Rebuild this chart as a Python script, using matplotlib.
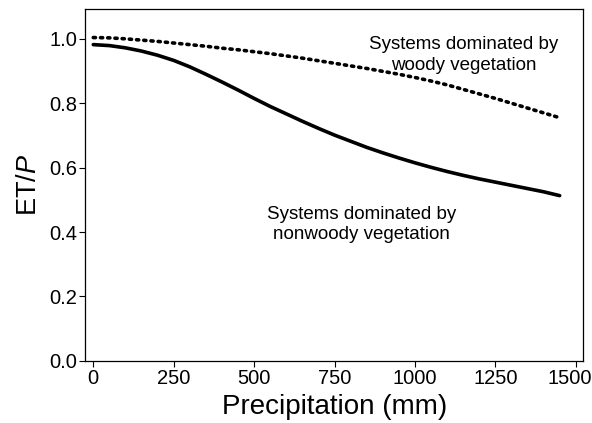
import matplotlib
matplotlib.use("Agg")
import matplotlib.pyplot as plt
from matplotlib.transforms import ScaledTranslation

plt.rcParams['font.family'] = ['Liberation Sans', 'DejaVu Sans']
plt.rcParams['mathtext.fontset'] = 'custom'
plt.rcParams['mathtext.rm'] = 'Liberation Sans'
plt.rcParams['mathtext.it'] = 'Liberation Sans:italic'

# precipitation (mm)
precip = [0, 50, 100, 150, 200, 250, 300, 350, 400, 450, 500, 550, 600, 650, 700, 750,
          800, 850, 900, 950, 1000, 1050, 1100, 1150, 1200, 1250, 1300, 1350, 1400, 1450]
# ET/P, systems dominated by woody vegetation
et_woody = [1.004, 1.003, 1.0, 0.996, 0.992, 0.987, 0.982, 0.977, 0.971, 0.966, 0.96, 0.954,
            0.947, 0.94, 0.932, 0.924, 0.916, 0.908, 0.899, 0.89, 0.88, 0.869, 0.857, 0.843,
            0.829, 0.815, 0.80, 0.785, 0.77, 0.755]
# ET/P, systems dominated by nonwoody vegetation
et_nonwoody = [0.982, 0.979, 0.972, 0.962, 0.949, 0.933, 0.913, 0.890, 0.866, 0.841, 0.815,
               0.79, 0.767, 0.744, 0.722, 0.701, 0.682, 0.663, 0.646, 0.63, 0.615, 0.601,
               0.588, 0.576, 0.565, 0.555, 0.545, 0.535, 0.525, 0.513]

xticks = [0, 250, 500, 750, 1000, 1250, 1500]
yticks = [0.0, 0.2, 0.4, 0.6, 0.8, 1.0]

fig = plt.figure(figsize=(5.92, 4.23), dpi=100)
ax = fig.add_axes([0.144, 0.147, 0.841, 0.832])

ax.plot(precip, et_woody, color='black', linestyle=(0, (0.6, 1.4)), linewidth=2.6,
        dash_capstyle='round')
ax.plot(precip, et_nonwoody, color='black', linewidth=2.6, solid_capstyle='round')

ax.text(1153, 0.95, 'Systems dominated by\nwoody vegetation', ha='center', va='center',
        fontsize=13.5, linespacing=1.25)
ax.text(834, 0.424, 'Systems dominated by\nnonwoody vegetation', ha='center', va='center',
        fontsize=13.5, linespacing=1.25)

ax.set_xlim(-25, 1523)
ax.set_ylim(0, 1.093)
ax.set_xticks(xticks)
ax.set_yticks(yticks)
ax.set_yticklabels([f'{v:.1f}' for v in yticks])
ax.tick_params(direction='out', length=4, width=0.8, labelsize=14.5, pad=2)
ax.set_xlabel('Precipitation (mm)', fontsize=20, labelpad=4)
ax.set_ylabel('ET/$\\it{P}$', fontsize=19.5, labelpad=5)
for s in ax.spines.values():
    s.set_linewidth(0.9)

# keep the last x tick label inside the figure
last = ax.get_xticklabels()[-1]
last.set_transform(last.get_transform() + ScaledTranslation(-6 / 100, 0, fig.dpi_scale_trans))

fig.savefig('out.png', dpi=100)
